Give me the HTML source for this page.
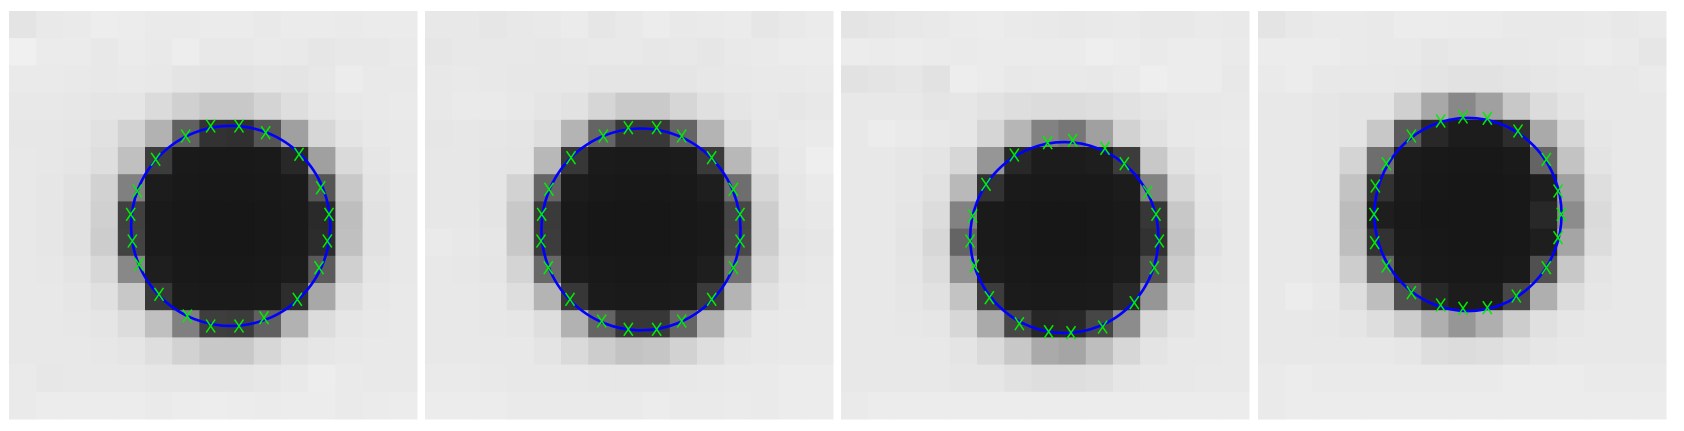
<!DOCTYPE html>
<html><head><meta charset="utf-8"><style>
html,body{margin:0;padding:0;background:#fff;width:1684px;height:431px;overflow:hidden}
svg{display:block}
</style></head><body>
<svg id="chart" width="1684" height="431" viewBox="0 0 1684 431"></svg>
<script>
const panelX = [9, 425, 841, 1258];
const grid1 = [
[228,233,234,237,236,234,234,235,235,233,235,235,234,235,235],
[240,235,235,232,235,233,237,232,232,234,233,230,232,232,234],
[234,234,233,232,233,232,228,227,227,229,228,231,236,233,233],
[232,232,231,229,229,219,208,200,200,212,222,229,232,233,234],
[231,231,230,225,210,178,96,50,48,85,160,215,228,232,233],
[232,231,229,222,192,60,26,25,25,26,40,160,218,230,233],
[232,230,226,210,128,28,25,24,24,25,27,85,200,228,232],
[232,230,225,208,64,26,24,23,23,24,26,42,190,226,232],
[232,230,225,205,66,26,24,23,23,24,26,44,192,226,232],
[232,231,228,216,136,30,25,24,24,25,28,90,208,229,232],
[232,232,230,224,200,55,27,26,26,27,45,168,222,231,233],
[232,232,231,229,220,192,128,62,60,96,178,220,230,232,233],
[232,232,232,231,229,222,210,200,200,215,226,230,232,233,233],
[234,231,232,232,232,230,230,229,229,231,233,237,234,233,233],
[234,236,236,236,236,234,236,237,236,235,236,236,234,235,236]];
const grid2 = [
[232,232,230,232,233,235,230,233,236,233,234,235,230,233,235],
[230,232,232,232,231,232,233,233,231,232,230,233,234,236,236],
[232,233,232,231,231,231,229,229,229,229,231,232,233,233,234],
[232,234,234,232,229,226,214,202,202,214,224,229,232,230,232],
[230,231,230,229,222,180,100,56,56,100,180,222,231,233,234],
[231,231,229,228,184,55,27,26,26,27,58,184,225,232,238],
[231,231,229,210,100,28,25,24,24,25,30,110,215,230,234],
[231,231,228,200,58,25,23,23,23,24,26,70,205,230,232],
[234,232,230,200,60,25,23,23,23,24,26,72,205,228,230],
[232,231,229,212,104,28,25,24,24,25,30,112,215,230,232],
[232,232,231,222,180,55,27,26,26,27,58,180,224,232,233],
[232,232,231,230,222,178,100,55,55,100,178,222,232,233,233],
[232,232,232,232,228,218,205,195,198,210,222,230,232,233,233],
[234,234,233,232,232,232,231,231,231,232,233,234,234,236,236],
[236,236,236,234,234,234,234,234,236,234,234,235,234,236,236]];
const grid3 = [
[228,230,232,233,235,236,234,233,232,233,234,232,232,234,233],
[236,235,236,235,234,235,235,235,235,238,236,234,236,236,234],
[226,228,230,226,237,235,232,233,233,232,234,238,236,236,232],
[232,232,232,229,230,226,222,220,220,222,226,229,232,232,233],
[232,236,234,232,230,214,182,130,118,160,210,225,232,233,234],
[232,232,230,228,215,150,40,28,28,30,60,200,226,232,233],
[232,232,230,225,185,50,26,25,25,25,28,130,215,230,233],
[232,232,229,220,130,26,24,23,23,24,26,55,200,228,232],
[232,232,228,215,100,26,24,23,23,24,26,50,195,226,232],
[232,232,229,220,145,28,25,24,24,25,28,80,205,230,232],
[232,232,230,225,195,60,27,26,26,27,40,150,218,232,233],
[232,232,231,230,215,170,70,38,40,70,140,215,228,232,233],
[232,232,232,232,228,218,200,170,165,190,215,228,232,232,233],
[232,232,232,232,230,230,225,222,222,224,230,232,232,233,233],
[234,236,236,236,236,236,236,236,236,236,236,236,236,236,236]];
const grid4 = [
[228,232,234,234,233,236,236,235,235,233,233,233,234,232,234],
[236,236,236,234,233,233,230,232,232,232,233,234,236,234,230],
[234,236,232,232,232,231,228,226,226,228,230,232,232,232,234],
[232,232,230,228,228,208,168,136,160,200,220,228,232,232,232],
[232,232,230,228,200,90,40,28,28,45,170,215,230,232,232],
[232,232,230,212,110,28,25,24,24,26,100,195,228,232,232],
[232,232,230,195,50,27,24,23,23,24,30,160,222,232,232],
[232,232,230,188,30,25,23,23,23,24,40,140,218,232,232],
[232,232,230,190,50,26,24,23,23,24,30,165,220,232,232],
[232,232,230,205,100,28,25,24,24,26,80,200,228,232,232],
[232,236,232,222,190,80,40,28,28,70,175,220,230,232,232],
[232,232,231,229,222,205,175,150,175,205,224,230,232,232,232],
[232,232,232,232,232,230,222,220,222,226,230,232,232,232,232],
[234,236,234,234,234,234,234,234,234,236,236,236,234,234,234],
[234,236,236,236,236,236,236,236,236,236,236,236,236,236,236]];
const grids = [grid1, grid2, grid3, grid4];
const fitCx = [8.15, 7.94, 8.21, 7.72];
const fitCy = [7.90, 8.03, 8.33, 7.48];
const fitRx = [3.66, 3.66, 3.46, 3.44];
const fitRy = [3.68, 3.71, 3.51, 3.55];
const edgeX1 = [530,605,690,770,870,935,960,955,930,865,765,690,605,535,450,390,370,365,385,440];
const edgeY1 = [375,345,345,365,430,530,610,690,770,865,920,945,945,915,850,760,690,610,540,445];
const edgeX2 = [535,610,695,770,860,925,945,945,925,860,770,695,610,530,435,370,348,350,372,438];
const edgeY2 = [375,350,350,375,440,535,610,690,770,865,930,955,955,930,865,770,690,610,535,440];
const edgeX3 = [620,695,792,850,920,945,955,940,880,785,690,623,535,445,400,387,395,435,520];
const edgeY3 = [395,388,412,458,543,610,690,770,875,948,965,962,938,860,765,690,615,520,432];
const edgeX4 = [548,615,688,780,865,900,910,900,865,775,688,615,548,460,385,350,348,352,385,460];
const edgeY4 = [330,318,322,360,445,540,610,680,770,855,890,892,882,845,765,695,610,525,458,375];
const edgesX = [edgeX1, edgeX2, edgeX3, edgeX4];
const edgesY = [edgeY1, edgeY2, edgeY3, edgeY4];

const NS = 'http://www.w3.org/2000/svg';
const svg = document.getElementById('chart');
const SIZE = 408, N = 15, CELL = SIZE / N, TOP = 11;
function mk(tag, attrs, parent) {
  const e = document.createElementNS(NS, tag);
  for (const k in attrs) e.setAttribute(k, attrs[k]);
  parent.appendChild(e);
  return e;
}
for (let p = 0; p < 4; p++) {
  const g = mk('g', {}, svg);
  
  
  const sx = c => panelX[p] + c * CELL;
  const sy = r => TOP + r * CELL;
  const grid = grids[p];
  for (let r = 0; r < N; r++) for (let c = 0; c < N; c++) {
    const v = grid[r][c];
    const rect = mk('rect', {x: sx(c), y: sy(r), width: CELL + 0.5, height: CELL + 0.5, fill: `rgb(${v},${v},${v})`}, g);
    
    
  }
  const el = mk('ellipse', {cx: sx(fitCx[p]), cy: sy(fitCy[p]), rx: fitRx[p] * CELL, ry: fitRy[p] * CELL, fill: 'none', stroke: '#0000ff', 'stroke-width': 2.6}, g);
  
  
  const ex = edgesX[p], ey = edgesY[p];
  for (let i = 0; i < ex.length; i++) {
    const x = sx(ex[i] / 81.6), y = sy(ey[i] / 81.6), dx = 4.5, dy = 6.5;
    const m = mk('path', {d: `M${x-dx},${y-dy}L${x+dx},${y+dy}M${x-dx},${y+dy}L${x+dx},${y-dy}`, stroke: '#00ee00', 'stroke-width': 1.5, fill: 'none'}, g);
    
    
  }
}
</script>
</body></html>
